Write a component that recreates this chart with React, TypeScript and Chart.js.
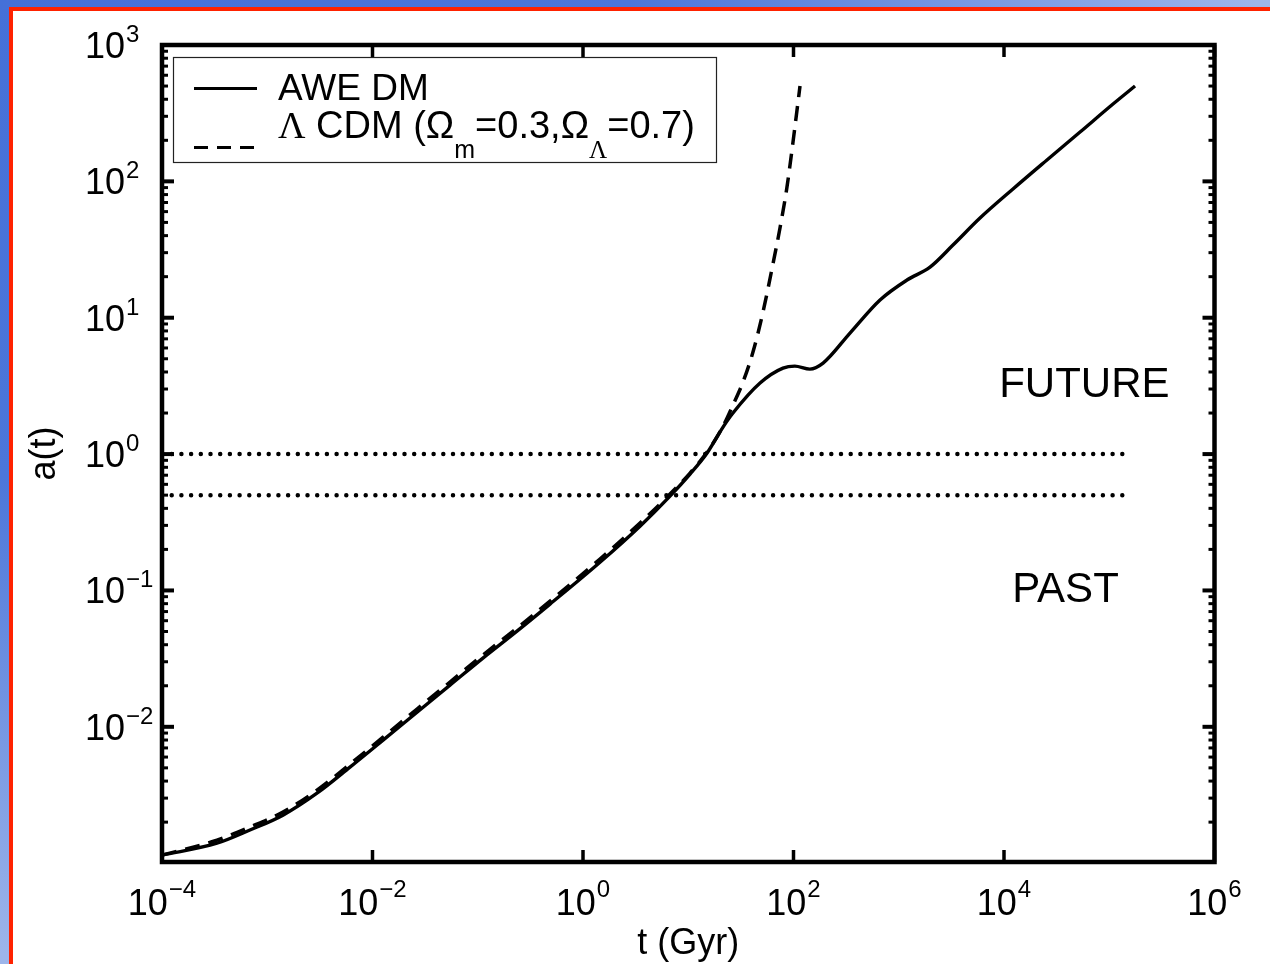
import React, { useEffect, useRef } from "react";
import { Chart, registerables } from "chart.js";

Chart.register(...registerables);

// ---- Data ----
const aweTime = [1e-4, 3.33e-4, 6.85e-4, 1.41e-3, 2.97e-3, 6.11e-3, 0.0126, 0.0265, 0.0545, 0.112, 0.236, 0.486, 1.45, 3.48, 6.71, 10.4, 15.1, 21.4, 26.6, 48.1, 79.4, 103, 143, 191, 344, 664, 1198, 1982, 3275, 5915, 12170, 25600, 52800, 108600, 175800];
const aweScale = [1.145e-3, 1.40e-3, 1.75e-3, 2.25e-3, 3.26e-3, 5.06e-3, 7.98e-3, 0.0128, 0.0202, 0.0319, 0.0503, 0.0794, 0.161, 0.296, 0.492, 0.713, 1.017, 1.578, 2.0, 3.32, 4.27, 4.42, 4.2, 4.65, 7.72, 13.5, 18.9, 23.5, 34.1, 53.8, 87.9, 143.5, 230, 369, 500];

const lcdmTime = [1e-4, 3.33e-4, 6.85e-4, 1.41e-3, 2.97e-3, 6.11e-3, 0.0126, 0.0265, 0.0545, 0.112, 0.236, 0.486, 1.45, 3.48, 6.71, 10.4, 15.1, 21.4, 26.6, 33.1, 41.2, 51.3, 63.8, 74.4, 86.7, 98.9, 110.4, 115.3];
const lcdmScale = [1.145e-3, 1.475e-3, 1.84e-3, 2.37e-3, 3.43e-3, 5.32e-3, 8.4e-3, 0.0135, 0.0213, 0.0336, 0.0529, 0.0835, 0.170, 0.312, 0.509, 0.726, 1.034, 1.6, 2.29, 3.37, 5.6, 11.0, 24.8, 45.5, 90.8, 194, 382, 500];

const refLevels = [1, 0.5];
const refLineTime = [1e-4, 1.6e5];

const xTickExponents = [-4, -2, 0, 2, 4, 6];
const yTickExponents = [-2, -1, 0, 1, 2, 3];
const xMin = 1e-4;
const xMax = 1e6;
const yMin = 1.02e-3;
const yMax = 1e3;

const xTitle = "t (Gyr)";
const yTitle = "a(t)";
const legendAwe = "AWE DM";
const regionTexts = ["FUTURE", "PAST"];
const regionTimes = [5.8e4, 3.84e4];
const regionScales = [3.2, 0.1];

// ---- Styling ----
const SANS = '"Liberation Sans", Arial, Helvetica, sans-serif';
const SERIF = '"Liberation Serif", "Times New Roman", serif';

const toPoints = (xs: number[], ys: number[]) => xs.map((x, i) => ({ x, y: ys[i] }));

const matlabAxes = {
  id: "matlabAxes",
  afterDraw(chart: any) {
    const ctx: CanvasRenderingContext2D = chart.ctx;
    const { left, right, top, bottom } = chart.chartArea;
    const xs = chart.scales.x;
    const ys = chart.scales.y;
    ctx.save();
    ctx.strokeStyle = "#000";
    ctx.fillStyle = "#000";
    ctx.lineCap = "butt";
    ctx.setLineDash([]);

    const seg = (x1: number, y1: number, x2: number, y2: number) => {
      ctx.beginPath();
      ctx.moveTo(x1, y1);
      ctx.lineTo(x2, y2);
      ctx.stroke();
    };

    // x ticks (inward, mirrored)
    ctx.lineWidth = 3.5;
    for (const e of xTickExponents) {
      const px = xs.getPixelForValue(Math.pow(10, e));
      seg(px, bottom, px, bottom - 12);
      seg(px, top, px, top + 12);
    }
    // y ticks, major + minor
    const d0 = Math.floor(Math.log10(yMin));
    const d1 = Math.ceil(Math.log10(yMax));
    for (let d = d0; d <= d1; d++) {
      for (let k = 1; k <= 9; k++) {
        const v = k * Math.pow(10, d);
        if (v < yMin * 0.999 || v > yMax * 1.001) continue;
        const py = ys.getPixelForValue(v);
        const len = k === 1 ? 12 : 6;
        ctx.lineWidth = k === 1 ? 4 : 3;
        seg(left, py, left + len, py);
        seg(right, py, right - len, py);
      }
    }
    // box
    ctx.lineWidth = 4.5;
    ctx.strokeRect(left, top, right - left, bottom - top);

    // x tick labels
    const baseFont = `36px ${SANS}`;
    const supFont = `24px ${SANS}`;
    ctx.textBaseline = "alphabetic";
    ctx.textAlign = "left";
    const expText = (e: number) => (e < 0 ? "\u2212" + Math.abs(e) : String(e));
    for (const e of xTickExponents) {
      const px = xs.getPixelForValue(Math.pow(10, e));
      ctx.font = baseFont;
      const wb = ctx.measureText("10").width;
      ctx.font = supFont;
      const we = ctx.measureText(expText(e)).width;
      const start = px - (wb + 1 + we) / 2;
      ctx.font = baseFont;
      ctx.fillText("10", start, bottom + 53);
      ctx.font = supFont;
      ctx.fillText(expText(e), start + wb + 1, bottom + 35);
    }
    // y tick labels
    for (const e of yTickExponents) {
      const py = ys.getPixelForValue(Math.pow(10, e));
      ctx.font = baseFont;
      ctx.textAlign = "right";
      ctx.fillText("10", left - 37, py + 13);
      ctx.font = supFont;
      ctx.textAlign = "left";
      ctx.fillText(expText(e), left - 36, py - 3);
    }

    // axis titles
    ctx.font = `36px ${SANS}`;
    ctx.textAlign = "center";
    ctx.textBaseline = "alphabetic";
    ctx.fillText(xTitle, (left + right) / 2, bottom + 92);
    ctx.save();
    ctx.translate(45, (top + bottom) / 2);
    ctx.rotate(-Math.PI / 2);
    ctx.textBaseline = "middle";
    ctx.fillText(yTitle, 0, 0);
    ctx.restore();

    // region labels
    ctx.font = `42px ${SANS}`;
    ctx.textAlign = "center";
    ctx.textBaseline = "middle";
    regionTexts.forEach((t, i) => {
      ctx.fillText(t, xs.getPixelForValue(regionTimes[i]), ys.getPixelForValue(regionScales[i]));
    });

    // legend
    const bx = left + 11.5;
    const by = top + 12.5;
    const bw = 543;
    const bh = 105;
    ctx.fillStyle = "#fff";
    ctx.fillRect(bx, by, bw, bh);
    ctx.strokeStyle = "#222";
    ctx.lineWidth = 1.2;
    ctx.strokeRect(bx, by, bw, bh);
    ctx.strokeStyle = "#000";
    ctx.fillStyle = "#000";
    ctx.lineWidth = 3.2;
    seg(bx + 20.5, by + 31, bx + 83.5, by + 31);
    ctx.setLineDash([14, 9]);
    seg(bx + 20.5, by + 90, bx + 83.5, by + 90);
    ctx.setLineDash([]);

    ctx.textAlign = "left";
    ctx.textBaseline = "alphabetic";
    const tx = bx + 104.5;
    ctx.font = `37px ${SANS}`;
    ctx.fillText(legendAwe, tx, by + 42);

    const base2 = by + 80;
    const sub2 = by + 100;
    let cx = tx;
    const put = (s: string, font: string, y: number) => {
      ctx.font = font;
      ctx.fillText(s, cx, y);
      cx += ctx.measureText(s).width;
    };
    const main = `38px ${SANS}`;
    const sub = `25px ${SANS}`;
    put("\u039B", `38px ${SERIF}`, base2);
    put(" CDM (\u03A9", main, base2);
    put("m", sub, sub2);
    put("=0.3,\u03A9", main, base2);
    put("\u039B", `25px ${SERIF}`, sub2);
    put("=0.7)", main, base2);

    ctx.restore();
  },
};

export default function App() {
  const canvasRef = useRef<HTMLCanvasElement | null>(null);

  useEffect(() => {
    if (!canvasRef.current) return;
    const refSets = refLevels.map((lvl) => ({
      label: `a = ${lvl}`,
      data: toPoints(refLineTime, refLineTime.map(() => lvl)),
      borderColor: "#000",
      borderWidth: 4.5,
      borderDash: [0, 9.7],
      borderCapStyle: "round" as const,
      pointRadius: 0,
      fill: false,
    }));
    const chart = new Chart(canvasRef.current, {
      type: "line",
      data: {
        datasets: [
          {
            label: "AWE DM",
            data: toPoints(aweTime, aweScale),
            borderColor: "#000",
            borderWidth: 3.4,
            pointRadius: 0,
            cubicInterpolationMode: "monotone",
            fill: false,
          },
          {
            label: "LCDM",
            data: toPoints(lcdmTime, lcdmScale),
            borderColor: "#000",
            borderWidth: 3.5,
            borderDash: [15, 9],
            pointRadius: 0,
            cubicInterpolationMode: "monotone",
            fill: false,
          },
          ...refSets,
        ],
      },
      options: {
        responsive: false,
        animation: false,
        devicePixelRatio: 1,
        layout: { padding: { left: 162, top: 45, right: 55.5, bottom: 102 } },
        scales: {
          x: { type: "logarithmic", min: xMin, max: xMax, display: false },
          y: { type: "logarithmic", min: yMin, max: yMax, display: false },
        },
        plugins: {
          legend: { display: false },
          tooltip: { enabled: false },
        },
        elements: { point: { radius: 0 } },
      },
      plugins: [matlabAxes],
    } as any);
    return () => chart.destroy();
  }, []);

  return (
    <div
      style={{
        position: "fixed",
        left: 0,
        top: 0,
        width: 1270,
        height: 964,
        overflow: "hidden",
        background:
          "radial-gradient(ellipse at 0% 0%, #4570d8 0%, #4c76da 35%, #9db5ea 70%, #a3baec 100%)",
      }}
    >
      <div
        style={{
          position: "absolute",
          left: 9,
          top: 7,
          right: 0,
          bottom: 0,
          background: "#fff",
          borderLeft: "4px solid #ff2200",
          borderTop: "4px solid #ff2200",
        }}
      />
      <canvas
        ref={canvasRef}
        width={1270}
        height={964}
        style={{ position: "absolute", left: 0, top: 0, width: 1270, height: 964 }}
      />
    </div>
  );
}
